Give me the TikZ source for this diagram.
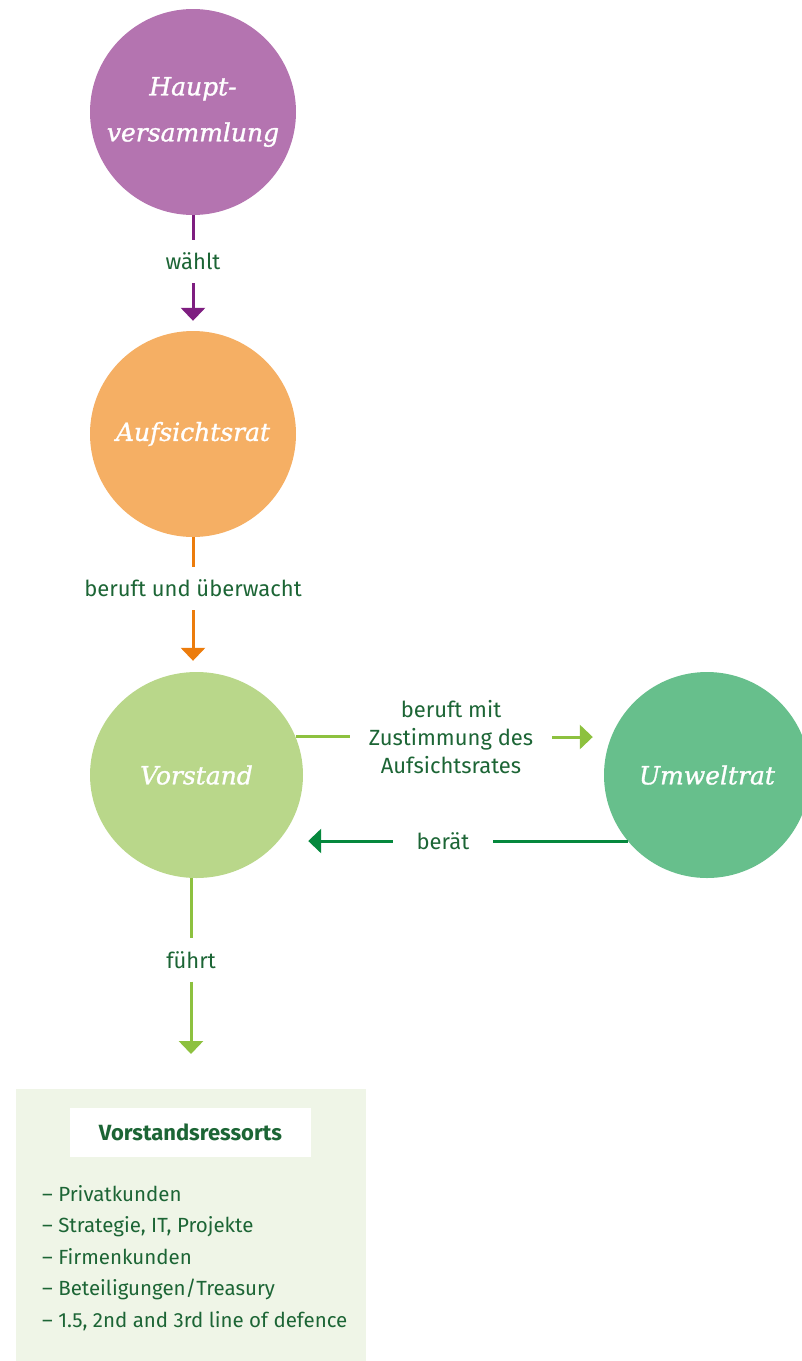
\documentclass[tikz,border=0pt]{standalone}
\usepackage{fontspec}
\setsansfont{Fira Sans}
\newfontfamily\kreisfont[FakeBold=1.2]{DejaVu Serif Italic}
\usetikzlibrary{arrows.meta,shapes.geometric}
\definecolor{hvlila}{HTML}{B474B0}
\definecolor{hvpfeil}{HTML}{7E1E80}
\definecolor{arorange}{HTML}{F5AF64}
\definecolor{arpfeil}{HTML}{EC7C0C}
\definecolor{vsgruen}{HTML}{B9D78A}
\definecolor{vspfeil}{HTML}{8DC13F}
\definecolor{uwgruen}{HTML}{67BF8C}
\definecolor{uwpfeil}{HTML}{05883D}
\definecolor{textgruen}{HTML}{1C6535}
\definecolor{boxgruen}{HTML}{EFF5E7}

\begin{document}
\begin{tikzpicture}[x=1pt,y=-1pt,
  kreis/.style={circle,minimum size=206pt,inner sep=0pt,text=white,align=center,
    font=\kreisfont\fontsize{25}{46}\selectfont},
  beschr/.style={text=textgruen,font=\sffamily\fontsize{22}{28}\selectfont,
    inner sep=0pt,inner xsep=20pt,minimum height=43pt,align=center},
  posten/.style={text=textgruen,font=\sffamily\fontsize{20.5}{28}\selectfont,inner sep=0pt},
  strich/.style={line width=3pt},
  pfeil/.style={line width=3pt,-{Triangle[width=24pt,length=13pt]}}]
\useasboundingbox (0,0) rectangle (802,1361);

\node[kreis,fill=hvlila] (hv) at (193,112) {Haupt-\\versammlung};
\node[kreis,fill=arorange] (ar) at (193,434) {Aufsichtsrat};
\node[kreis,ellipse,fill=vsgruen,minimum width=213pt,minimum height=206pt] (vs) at (196.5,775) {Vorstand};
\node[kreis,fill=uwgruen] (uw) at (707,775) {Umweltrat};

\node[beschr] (waehlt) at (193,261.5) {wählt};
\node[beschr] (bu) at (193,588.5) {beruft und überwacht};
\node[beschr,inner xsep=19pt] (bm) at (451,737) {beruft mit\\Zustimmung des\\Aufsichtsrates};
\node[beschr,minimum width=100pt] (br) at (443,841) {berät};
\node[beschr] (fu) at (191,960) {führt};

\draw[strich,hvpfeil] (hv.south) -- (waehlt.north);
\draw[pfeil,hvpfeil,shorten >=10pt] (waehlt.south) -- (ar.north);
\draw[strich,arpfeil] (ar.south) -- (bu.north);
\draw[pfeil,arpfeil,shorten >=11pt] (bu.south) -- (vs.north -| bu.south);
\draw[strich,vspfeil] (vs.21) -- (vs.21 -| bm.west);
\draw[pfeil,vspfeil,shorten >=11pt] (bm.east) -- (uw.west |- bm.east);
\draw[strich,uwpfeil] (uw.220) -- (uw.220 -| br.east);
\draw[pfeil,uwpfeil,shorten >=5pt] (br.west) -- (br.west -| vs.east);

% Ressorts
\node[fill=boxgruen,minimum width=350pt,minimum height=272pt,anchor=north west,inner sep=0pt] (box) at (16,1089) {};
\node[fill=white,minimum width=241pt,minimum height=49pt,inner sep=0pt,text=textgruen,
  font=\sffamily\bfseries\fontsize{22}{24}\selectfont] (titel) at (190.5,1132.5) {Vorstandsressorts};
\foreach \txt [count=\i] in {Privatkunden,{Strategie, IT, Projekte},Firmenkunden,
  Beteiligungen/Treasury,{1.5, 2nd and 3rd line of defence}}
  \node[posten,anchor=base west] (p\i) at (42,{1201+31.5*(\i-1)}) {– \txt};

\draw[strich,vspfeil] (vs.south -| fu.north) -- (fu.north);
\draw[pfeil,vspfeil,shorten >=35pt] (fu.south) -- (box.north -| fu.south);
\end{tikzpicture}
\end{document}
